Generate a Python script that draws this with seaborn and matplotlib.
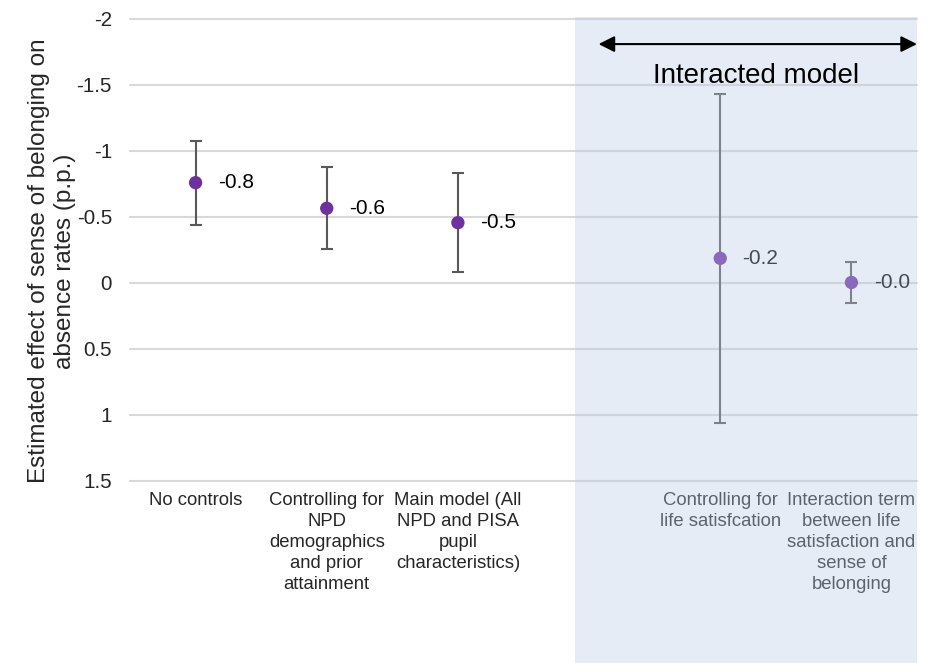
import numpy as np
import pandas as pd
import seaborn as sns
import matplotlib.pyplot as plt
import matplotlib.transforms as mtransforms
from matplotlib.patches import Rectangle
from matplotlib.ticker import FuncFormatter

# Model specifications (blank slot separates the two groups)
categories = [
    "No controls",
    "Controlling for\nNPD\ndemographics\nand prior\nattainment",
    "Main model (All\nNPD and PISA\npupil\ncharacteristics)",
    "",
    "Controlling for\nlife satisfcation",
    "Interaction term\nbetween life\nsatisfaction and\nsense of\nbelonging",
]
estimates = [-0.76, -0.566, -0.457, np.nan, -0.187, -0.004]
ci_lower = [-1.076, -0.881, -0.831, np.nan, -1.43, -0.16]
ci_upper = [-0.437, -0.255, -0.083, np.nan, 1.063, 0.154]
y_ticks = [-2, -1.5, -1, -0.5, 0, 0.5, 1, 1.5]

group_label = "Interacted model"
y_label = "Estimated effect of sense of belonging on\nabsence rates (p.p.)"

sns.set_style("white")
plt.rcParams["font.family"] = ["Liberation Sans", "DejaVu Sans"]

df = pd.DataFrame({
    "pos": np.arange(len(categories)),
    "estimate": estimates,
    "lower": ci_lower,
    "upper": ci_upper,
}).dropna()

W, H = 931, 663
fig = plt.figure(figsize=(W / 100, H / 100), dpi=100)
ax = fig.add_axes([130 / W, 1 - 481 / H, 787 / W, 462 / H])

# confidence intervals
ax.errorbar(df["pos"], df["estimate"],
            yerr=[df["estimate"] - df["lower"], df["upper"] - df["estimate"]],
            fmt="none", ecolor="#595959", elinewidth=1.5, capsize=4.3,
            capthick=1.5, zorder=2)

# point estimates
sns.scatterplot(data=df, x="pos", y="estimate", ax=ax, s=92,
                color="#7030a0", edgecolor="none", zorder=3, legend=False)

for p, v in zip(df["pos"], df["estimate"]):
    ax.annotate(f"{v:.1f}", xy=(p, v), xytext=(16, 0),
                textcoords="offset points", ha="left", va="center",
                fontsize=15, color="black", zorder=4)

ax.set_xlim(-0.5, len(categories) - 0.5)
ax.set_ylim(1.5, -2)
ax.set_yticks(y_ticks)
ax.yaxis.set_major_formatter(FuncFormatter(lambda v, _: f"{v:g}"))
ax.set_xticks(np.arange(len(categories)))
ax.set_xticklabels(categories, fontsize=13.3, linespacing=1.3, va="top")
ax.tick_params(axis="x", length=0, pad=8)
ax.tick_params(axis="y", length=0, pad=13, labelsize=14.9)
ax.grid(axis="y", color="#d9d9d9", lw=1.5)
ax.grid(axis="x", visible=False)
for gl in ax.get_ygridlines():
    gl.set_clip_on(False)
for s in ax.spines.values():
    s.set_visible(False)
ax.set_xlabel("")
ax.set_ylabel(y_label, fontsize=17.5, linespacing=1.25)
ax.yaxis.set_label_coords(-0.068, 0.476)

# translucent band marking the interacted model, down to the figure's bottom
band_tf = mtransforms.blended_transform_factory(ax.transData, fig.transFigure)
x0 = 2.889
band = Rectangle((x0, 0), len(categories) - 0.5 - x0, 1 - 17 / H,
                 transform=band_tf, facecolor=(187 / 255, 204 / 255, 231 / 255),
                 alpha=0.37, edgecolor="none", clip_on=False, zorder=10)
ax.add_patch(band)

ax.annotate("", xy=(len(categories) - 0.5, -1.81), xytext=(3.072, -1.81),
            arrowprops=dict(arrowstyle="<|-|>", color="black", lw=1.5,
                            mutation_scale=24, shrinkA=0, shrinkB=0),
            annotation_clip=False, zorder=11)
ax.text(4.27, -1.515, group_label, ha="center", va="baseline",
        fontsize=20, color="black", zorder=11)

fig.savefig("out.png", dpi=100)
